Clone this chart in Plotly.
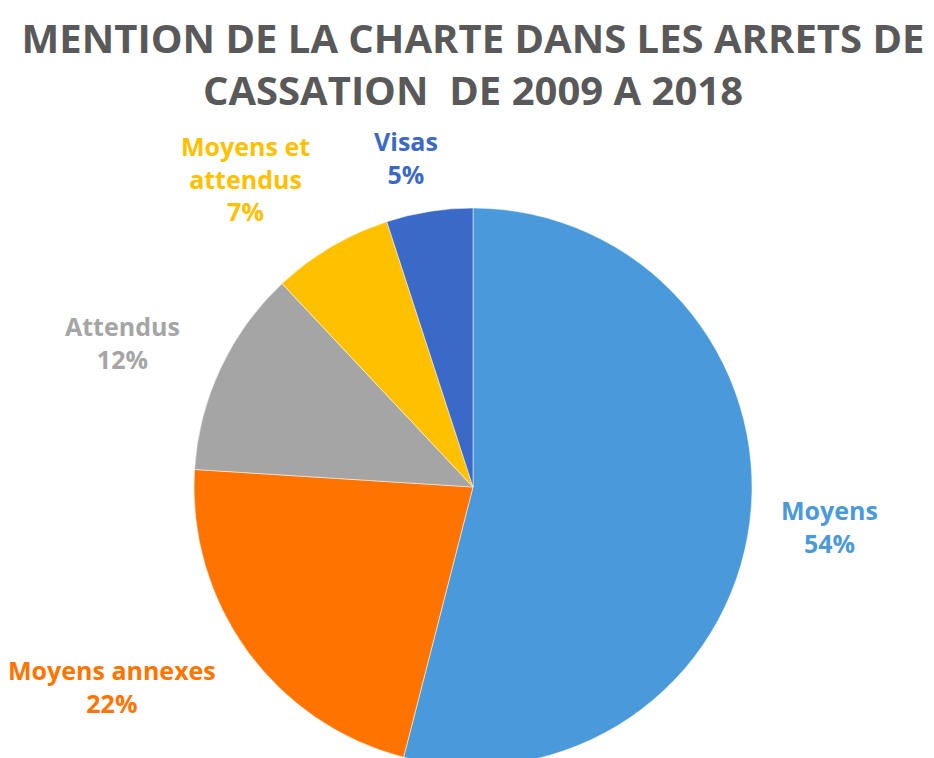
import math
import plotly.graph_objects as go

labels = ["Moyens", "Moyens annexes", "Attendus", "Moyens et<br>attendus", "Visas"]
values = [54, 22, 12, 7, 5]
colors = ["#4A9ADB", "#FF7300", "#A5A5A5", "#FFC000", "#3B69C8"]

# small nudges (px) for the outside labels, like the original layout
label_dx = [-4, -2, -8, -2, 16]
label_dy = [0, -16, 11, -12, -15]

W, H = 934, 758
L, R, T, B = 186, 190, 200, 0

fig = go.Figure(
    go.Pie(
        labels=labels,
        values=values,
        marker=dict(colors=colors, line=dict(color="white", width=0.5)),
        sort=False,
        direction="clockwise",
        rotation=0,
        textinfo="none",
        hoverinfo="label+percent",
        showlegend=False,
    )
)

# data labels placed just outside each slice, based on its mid angle
total = sum(values)
start = 0.0
annotations = []
for lab, val, col, dx, dy in zip(labels, values, colors, label_dx, label_dy):
    mid = (start + val / 2) / total * 2 * math.pi
    start += val
    s, c = math.sin(mid), math.cos(mid)
    d = 0.5 * 1.12
    xa = "left" if s > 0 else "right"
    ya = "middle"
    if abs(c) > 0.7:
        ya = "bottom" if c > 0 else "top"
    annotations.append(dict(
        x=0.5 + d * s, y=0.5 + d * c, xref="paper", yref="paper",
        xshift=dx, yshift=dy,
        text="<b>%s<br>%d%%</b>" % (lab, round(val / total * 100)),
        showarrow=False, xanchor=xa, yanchor=ya, align="center",
        font=dict(family="Open Sans", size=25, color=col),
    ))

fig.update_layout(
    width=W, height=H,
    margin=dict(l=L, r=R, t=T, b=B),
    paper_bgcolor="white",
    title=dict(
        text="<b>MENTION DE LA CHARTE DANS LES ARRETS DE<br>CASSATION  DE 2009 A 2018</b>",
        x=0.5, xref="paper", xanchor="center",
        y=0.94, yref="container", yanchor="middle",
        font=dict(family="Open Sans", size=40, color="#595959"),
    ),
    annotations=annotations,
)

fig.write_html("out.html")
